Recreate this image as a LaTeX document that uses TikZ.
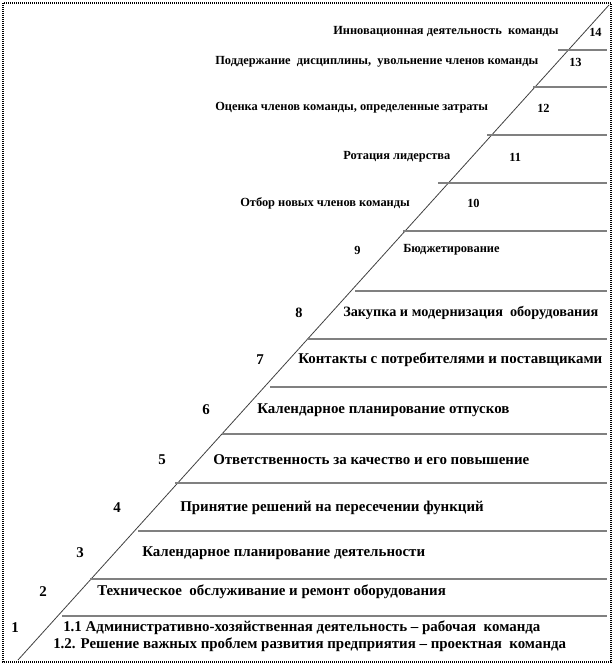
\documentclass[tikz,border=0pt]{standalone}
\usepackage{fontspec}
\setmainfont{Liberation Serif}
\usetikzlibrary{positioning}

\begin{document}
\begin{tikzpicture}[
    x=0.75pt, y=-0.75pt,
    every node/.style={inner sep=0pt, anchor=west},
    frame/.style={line width=1.1pt, draw=black,
                  dash pattern=on 0.75pt off 0.75pt},
    diag/.style ={line width=0.6pt, draw=black!75},
    rung/.style ={line width=1.5pt, draw=black!50},
    small/.style={font=\fontsize{9.3}{11}\selectfont\bfseries},
    mid/.style  ={font=\fontsize{10.7}{12}\selectfont\bfseries},
    large/.style={font=\fontsize{11.2}{13}\selectfont\bfseries},
  ]

  %% --- canvas and frame -------------------------------------------------
  \useasboundingbox (0,0) rectangle (614,666);
  \draw[frame] (3,3) rectangle (611,662);

  %% --- staircase: diagonal and horizontal rungs -------------------------
  \draw[diag] (18,660) -- (609,5);
  \foreach \y/\xs in {50/558, 87/533, 135/487, 183/438, 231/403,
                      291/355, 339/307, 387/270, 434/222, 483/175,
                      531/138, 579/90, 616/62}
    \draw[rung] (\xs,\y) -- (607,\y);

  %% --- upper levels (text left of the diagonal) -------------------------
  \node[small] (t14) at (333,32)  {Инновационная деятельность\ \ команды};
  \node[small] (n14) at (589,32)  {14};
  \node[small] (t13) at (215,62)  {Поддержание\ \ дисциплины,\ \ увольнение членов команды};
  \node[small] (n13) at (569,62)  {13};
  \node[small] (t12) at (215,108) {Оценка членов команды, определенные затраты};
  \node[small] (n12) at (537,108) {12};
  \node[small] (t11) at (343,157) {Ротация лидерства};
  \node[small] (n11) at (509,157) {11};
  \node[small] (t10) at (240,203) {Отбор новых членов команды};
  \node[small] (n10) at (467,203) {10};

  %% --- lower levels (number left, text right of the diagonal) -----------
  \node[small] (n9) at (354,250) {9};
  \node[small] (t9) at (403,250) {Бюджетирование};
  \node[mid]   (n8) at (295,313) {8};
  \node[mid]   (t8) at (343,313) {Закупка и модернизация\ \ оборудования};
  \node[large] (n7) at (256,360) {7};
  \node[large] (t7) at (298,360) {Контакты с потребителями и поставщиками};
  \node[large] (n6) at (202,410) {6};
  \node[large] (t6) at (257,410) {Календарное планирование отпусков};
  \node[large] (n5) at (158,460) {5};
  \node[large] (t5) at (213,460) {Ответственность за качество и его повышение};
  \node[large] (n4) at (113,508) {4};
  \node[large] (t4) at (180,508) {Принятие решений на пересечении функций};
  \node[large] (n3) at (76,553)  {3};
  \node[large] (t3) at (142,553) {Календарное планирование деятельности};
  \node[large] (n2) at (39,592)  {2};
  \node[large] (t2) at (97,592)  {Техническое\ \ обслуживание и ремонт оборудования};
  \node[large] (n1) at (11,628)  {1};
  \node[large] (t1a) at (63,628) {1.1 Административно-хозяйственная деятельность – рабочая\ \ команда};
  \node[large] (t1b) at (53,645) {1.2. Решение важных проблем развития предприятия – проектная\ \ команда};

\end{tikzpicture}
\end{document}
